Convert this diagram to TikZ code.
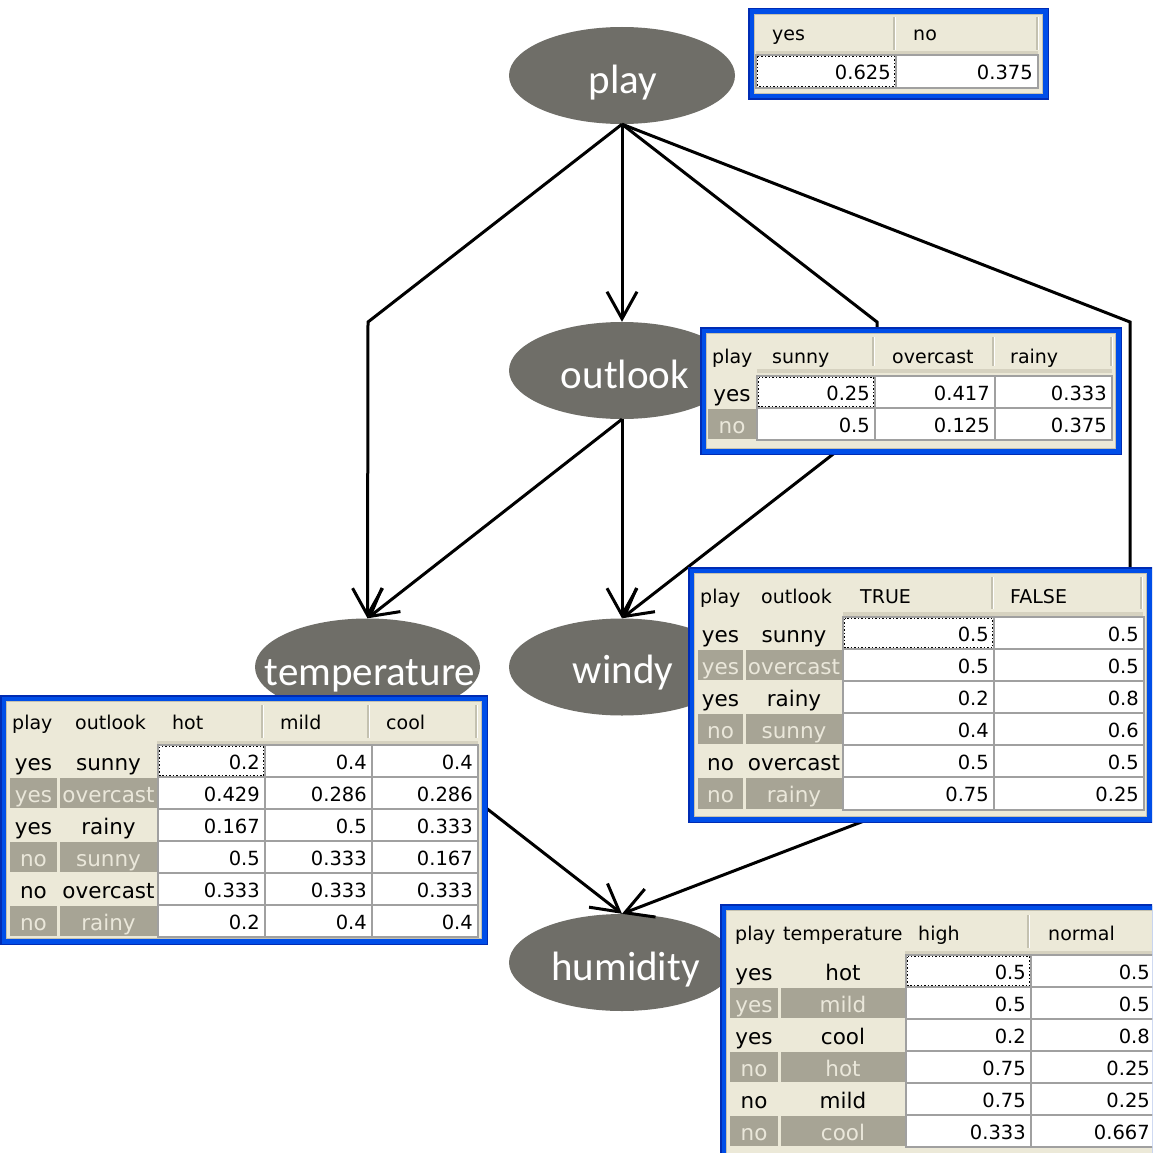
\documentclass[tikz,border=0pt]{standalone}
\usepackage{fontspec}
\setmainfont{DejaVu Sans}
\newfontfamily\ellfont{Carlito}
\usetikzlibrary{arrows.meta,shapes.geometric}
\definecolor{nodegray}{RGB}{111,110,104}
\definecolor{xpbeige}{RGB}{236,233,216}
\definecolor{darkcell}{RGB}{167,164,149}
\definecolor{lightlbl}{RGB}{234,231,218}
\definecolor{gridgray}{RGB}{160,160,160}
\definecolor{xpblue}{RGB}{0,78,232}
\definecolor{xpbluedark}{RGB}{0,44,180}
\definecolor{hdrsep}{RGB}{196,193,176}
\definecolor{stripc}{RGB}{214,210,192}
\newcounter{cellno}
\newcommand\cptframe[4]{%
  \fill[xpbluedark] (#1,#2) rectangle (#3,#4);
  \fill[xpblue] (#1+1.5,#2+1.5) rectangle (#3-1.5,#4-1.5);
  \fill[xpbeige] (#1+6,#2+6) rectangle (#3-6,#4-6);
  \draw[hdrsep,line width=1] (#1+6.5,#2+6.5) rectangle (#3-6.5,#4-6.5);}
\newcommand\cptsep[3]{\draw[hdrsep,line width=1.5] (#1,#2) -- (#1,#3); \draw[white,line width=1] (#1+1.5,#2) -- (#1+1.5,#3);}
\newcommand\cpthd[3]{\stepcounter{cellno}\node[hdr] (c\arabic{cellno}) at (#1,#2) {#3};}
\newcommand\cptlabN[5]{\stepcounter{cellno}\node[rowlbl] (c\arabic{cellno}) at ({(#1+#3)/2},{(#2+#4)/2+9}) {#5};}
\newcommand\cptlabD[5]{\fill[darkcell] (#1,#2+1) rectangle (#3,#4-1);\stepcounter{cellno}\node[rowlbl,text=lightlbl] (c\arabic{cellno}) at ({(#1+#3)/2},{(#2+#4)/2+9}) {#5};}
\newcommand\cptdat[5]{\fill[white] (#1,#2) rectangle (#3,#4); \draw[gridgray,line width=1.5] (#1,#2) rectangle (#3,#4);\stepcounter{cellno}\node[num] (c\arabic{cellno}) at (#3-5,{(#2+#4)/2+8}) {#5};}
% temperature table row
\newcommand\rowT[8]{\csname cptlab#3\endcsname{10}{#1}{57}{#2}{#4}\csname cptlab#3\endcsname{60}{#1}{157}{#2}{#5}\cptdat{158}{#1}{265}{#2}{#6}\cptdat{265}{#1}{372}{#2}{#7}\cptdat{372}{#1}{478}{#2}{#8}}
% windy table row
\newcommand\rowW[7]{\csname cptlab#3\endcsname{698}{#1}{743}{#2}{#4}\csname cptlab#3\endcsname{746}{#1}{842}{#2}{#5}\cptdat{843}{#1}{994}{#2}{#6}\cptdat{994}{#1}{1144}{#2}{#7}}
% humidity table row
\newcommand\rowH[7]{\csname cptlab#3\endcsname{730}{#1}{778}{#2}{#4}\csname cptlab#3\endcsname{781}{#1}{905}{#2}{#5}\cptdat{906}{#1}{1031}{#2}{#6}\cptdat{1031}{#1}{1155}{#2}{#7}}
\begin{document}
\begin{tikzpicture}[x=1pt,y=-1pt,
  hdr/.style={anchor=base west, inner sep=0, font=\fontsize{19}{22}\selectfont, text=black},
  rowlbl/.style={anchor=base, inner sep=0, font=\fontsize{21.5}{24}\selectfont, text=black},
  num/.style={anchor=base east, inner sep=0, font=\fontsize{19.5}{22}\selectfont, text=black},
  ell/.style={ellipse, fill=nodegray, draw=none, inner sep=0, minimum width=226, minimum height=97},
  elltxt/.style={anchor=base, inner sep=0, text=white, font=\ellfont\fontsize{41}{46}\selectfont},
  arr/.style={line width=3, -{Straight Barb[length=27,width=30]}},
  dots/.style={black, dotted, line width=1.5}]
\useasboundingbox (0,0) rectangle (1152,1153);
\clip (0,0) rectangle (1152,1153);
\fill[white] (0,0) rectangle (1152,1153);

% nodes
\node[ell] (play) at (622,75.5) {};
\node[ell] (outlook) at (622,370.5) {};
\node[ell, minimum width=225] (temperature) at (367.5,667) {};
\node[ell] (windy) at (622,667) {};
\node[ell] (humidity) at (622,962.5) {};
\node[elltxt] (playT) at (623,94) {play};
\node[elltxt] (outlookT) at (625,388) {outlook};
\node[elltxt] (temperatureT) at (370,685) {temperature};
\node[elltxt] (windyT) at (623,683) {windy};
\node[elltxt] (humidityT) at (625.5,980) {humidity};

% bends
\coordinate (bT) at (368,322);
\coordinate (bW1) at (877,322);
\coordinate (bW2) at (877,420);
\coordinate (bH1) at (1130,322);
\coordinate (bH2) at (1130,719);

% edges
\draw[arr] (play.south) -- (outlook.north);
\draw[arr] (play.south) -- (bT) -- (temperature.north);
\draw[arr] (play.south) -- (bW1) -- (bW2) -- (windy.north);
\draw[arr] (play.south) -- (bH1) -- (bH2) -- (humidity.north);
\draw[arr] (outlook.south) -- (temperature.north);
\draw[arr] (outlook.south) -- (windy.north);
\draw[arr] (temperature.south) -- (humidity.north);

% ---- play table
\cptframe{748}{8}{1049}{100}
\fill[stripc] (756,51) rectangle (1038,55);
\cptsep{894}{17}{50}\cptsep{1037}{17}{50}
\cpthd{772}{41}{yes}\cpthd{913}{41}{no}
\cptdat{756}{55}{896}{88}{0.625}\cptdat{896}{55}{1038}{88}{0.375}
\draw[dots] (757.5,56.5) rectangle (894.5,86.5);

% ---- outlook table
\cptframe{700}{327}{1122}{455}
\fill[stripc] (757,369) rectangle (1112,373);
\cptsep{873}{337}{366}\cptsep{993}{337}{366}\cptsep{1111}{337}{366}
\cpthd{712}{363}{play}\cpthd{772}{363}{sunny}\cpthd{892}{363}{overcast}\cpthd{1010}{363}{rainy}
\cptlabN{708}{376}{756}{408}{yes}
\cptdat{757}{376}{875}{408}{0.25}\cptdat{875}{376}{995}{408}{0.417}\cptdat{995}{376}{1112}{408}{0.333}
\cptlabD{708}{408}{756}{440}{no}
\cptdat{757}{408}{875}{440}{0.5}\cptdat{875}{408}{995}{440}{0.125}\cptdat{995}{408}{1112}{440}{0.375}
\draw[dots] (758.5,377.5) rectangle (873.5,406.5);

% ---- windy table
\cptframe{688}{567}{1153}{823}
\fill[stripc] (843,612) rectangle (1143,616);
\cptsep{992}{577}{609}\cptsep{1141}{577}{609}
\cpthd{700}{603}{play}\cpthd{761}{603}{outlook}\cpthd{860}{603}{TRUE}\cpthd{1010}{603}{FALSE}
\rowW{617}{649}{N}{yes}{sunny}{0.5}{0.5}
\rowW{649}{681}{D}{yes}{overcast}{0.5}{0.5}
\rowW{681}{713}{N}{yes}{rainy}{0.2}{0.8}
\rowW{713}{745}{D}{no}{sunny}{0.4}{0.6}
\rowW{745}{777}{N}{no}{overcast}{0.5}{0.5}
\rowW{777}{810}{D}{no}{rainy}{0.75}{0.25}
\draw[dots] (844.5,618.5) rectangle (992.5,647.5);

% ---- temperature table
\cptframe{0}{695}{488}{945}
\fill[stripc] (157,741) rectangle (478,745);
\cptsep{262}{705}{738}\cptsep{368}{705}{738}\cptsep{476}{705}{738}
\cpthd{12}{729}{play}\cpthd{75}{729}{outlook}\cpthd{172}{729}{hot}\cpthd{280}{729}{mild}\cpthd{386}{729}{cool}
\rowT{745}{777}{N}{yes}{sunny}{0.2}{0.4}{0.4}
\rowT{777}{809}{D}{yes}{overcast}{0.429}{0.286}{0.286}
\rowT{809}{841}{N}{yes}{rainy}{0.167}{0.5}{0.333}
\rowT{841}{873}{D}{no}{sunny}{0.5}{0.333}{0.167}
\rowT{873}{905}{N}{no}{overcast}{0.333}{0.333}{0.333}
\rowT{905}{937}{D}{no}{rainy}{0.2}{0.4}{0.4}
\draw[dots] (159.5,746.5) rectangle (263.5,775.5);

% ---- humidity table
\cptframe{720}{904}{1170}{1170}
\fill[stripc] (905,951) rectangle (1152,955);
\cptsep{1028}{915}{948}
\cpthd{735}{940}{play}\cpthd{783}{940}{temperature}\cpthd{918}{940}{high}\cpthd{1048}{940}{normal}
\rowH{955}{987}{N}{yes}{hot}{0.5}{0.5}
\rowH{987}{1019}{D}{yes}{mild}{0.5}{0.5}
\rowH{1019}{1051}{N}{yes}{cool}{0.2}{0.8}
\rowH{1051}{1083}{D}{no}{hot}{0.75}{0.25}
\rowH{1083}{1115}{N}{no}{mild}{0.75}{0.25}
\rowH{1115}{1147}{D}{no}{cool}{0.333}{0.667}
\draw[dots] (907.5,956.5) rectangle (1029.5,985.5);
\end{tikzpicture}
\end{document}
